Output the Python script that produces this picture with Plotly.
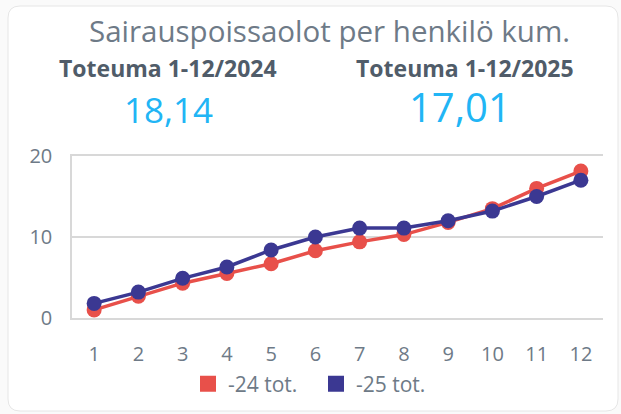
import plotly.graph_objects as go

months = [1, 2, 3, 4, 5, 6, 7, 8, 9, 10, 11, 12]
tot24 = [1.0, 2.7, 4.3, 5.5, 6.7, 8.3, 9.4, 10.3, 11.8, 13.5, 16.0, 18.14]
tot25 = [1.8, 3.2, 4.9, 6.3, 8.4, 10.0, 11.1, 11.1, 12.0, 13.2, 15.0, 17.01]
series_names = ["-24 tot.", "-25 tot."]
y_ticks = [0, 10, 20]
title_text = "Sairauspoissaolot per henkilö kum."
kpi_labels = ["Toteuma 1-12/2024", "Toteuma 1-12/2025"]
kpi_values = ["18,14", "17,01"]

RED = "#E8504A"
BLUE = "#3B3892"
GRAY = "#6E7A87"
FONT = "Open Sans"

W, H = 621, 414
ml, mr, mt, mb = 72, 18, 156, 96

fig = go.Figure()
for name, vals, col in [(series_names[0], tot24, RED), (series_names[1], tot25, BLUE)]:
    fig.add_trace(go.Scatter(
        x=months, y=vals, mode="lines+markers", name=name,
        line=dict(color=col, width=3.5),
        marker=dict(color=col, size=15),
        showlegend=False, hoverinfo="x+y", cliponaxis=False,
    ))
for name, col in [(series_names[0], RED), (series_names[1], BLUE)]:
    fig.add_trace(go.Scatter(
        x=[None], y=[None], mode="markers", name=name,
        marker=dict(color=col, size=18, symbol="square"),
    ))

fig.update_layout(
    width=W, height=H,
    margin=dict(l=ml, r=mr, t=mt, b=mb, autoexpand=False),
    paper_bgcolor="#FAFAFA",
    plot_bgcolor="rgba(0,0,0,0)",
    font=dict(family=FONT, color=GRAY, size=15),
    xaxis=dict(
        range=[0.5, 12.5], tickmode="array", tickvals=months,
        ticktext=[str(m) for m in months],
        showgrid=False, zeroline=False,
        showline=True, mirror=True, linecolor="#D8D8D8", linewidth=1.5,
        ticks="", ticklabelstandoff=17,
        tickfont=dict(size=20, color=GRAY, family=FONT),
    ),
    yaxis=dict(
        range=[0, 20], tickmode="array", tickvals=y_ticks,
        showgrid=True, gridcolor="#D8D8D8", gridwidth=1.5,
        zeroline=False, showline=True, linecolor="#D8D8D8", linewidth=1.5,
        ticks="", ticklabelstandoff=14,
        tickfont=dict(size=20, color=GRAY, family=FONT),
    ),
    legend=dict(
        orientation="h", xref="container", yref="container",
        x=316 / W, xanchor="center", y=1 - 384 / H, yanchor="middle",
        font=dict(size=21, color=GRAY, family=FONT),
        itemwidth=30, itemsizing="trace", entrywidth=83,
        bgcolor="rgba(0,0,0,0)",
    ),
    showlegend=True,
)

def px_x(px):
    return (px - ml) / (W - ml - mr)

def px_y(py):
    return (H - mb - py) / (H - mt - mb)

# card background (rounded rectangle)
r = 12
L, T, R, B = 8, 6, 618, 411
card = ("M {x0},{y0} L {x1},{y0} Q {xr},{y0} {xr},{ya} L {xr},{yb} Q {xr},{yB} {x1},{yB} "
        "L {x0},{yB} Q {xl},{yB} {xl},{yb} L {xl},{ya} Q {xl},{y0} {x0},{y0} Z").format(
    x0=px_x(L + r), x1=px_x(R - r), xr=px_x(R), xl=px_x(L),
    y0=px_y(T), ya=px_y(T + r), yb=px_y(B - r), yB=px_y(B))
fig.add_shape(type="path", xref="paper", yref="paper", layer="below",
              path=card, fillcolor="white", line=dict(color="#E6E6E6", width=1))

fig.add_annotation(text=title_text, xref="paper", yref="paper",
                   x=px_x(329), y=px_y(31), xanchor="center", yanchor="middle",
                   showarrow=False, borderpad=0,
                   font=dict(size=29.5, color=GRAY, family=FONT))
for lbl, cx in zip(kpi_labels, [168, 465]):
    fig.add_annotation(text="<b>" + lbl + "</b>", xref="paper", yref="paper",
                       x=px_x(cx), y=px_y(67.5), xanchor="center", yanchor="middle",
                       showarrow=False, borderpad=0,
                       font=dict(size=23, color="#505C69", family=FONT))
for val, cx, cy, sz in zip(kpi_values, [168, 460], [109, 106], [35, 40]):
    fig.add_annotation(text=val, xref="paper", yref="paper",
                       x=px_x(cx), y=px_y(cy), xanchor="center", yanchor="middle",
                       showarrow=False, borderpad=0,
                       font=dict(size=sz, color="#21B5F5", family=FONT))

fig.write_html("out.html", config={"displayModeBar": False},
               post_script="document.body.style.margin='0px';")
